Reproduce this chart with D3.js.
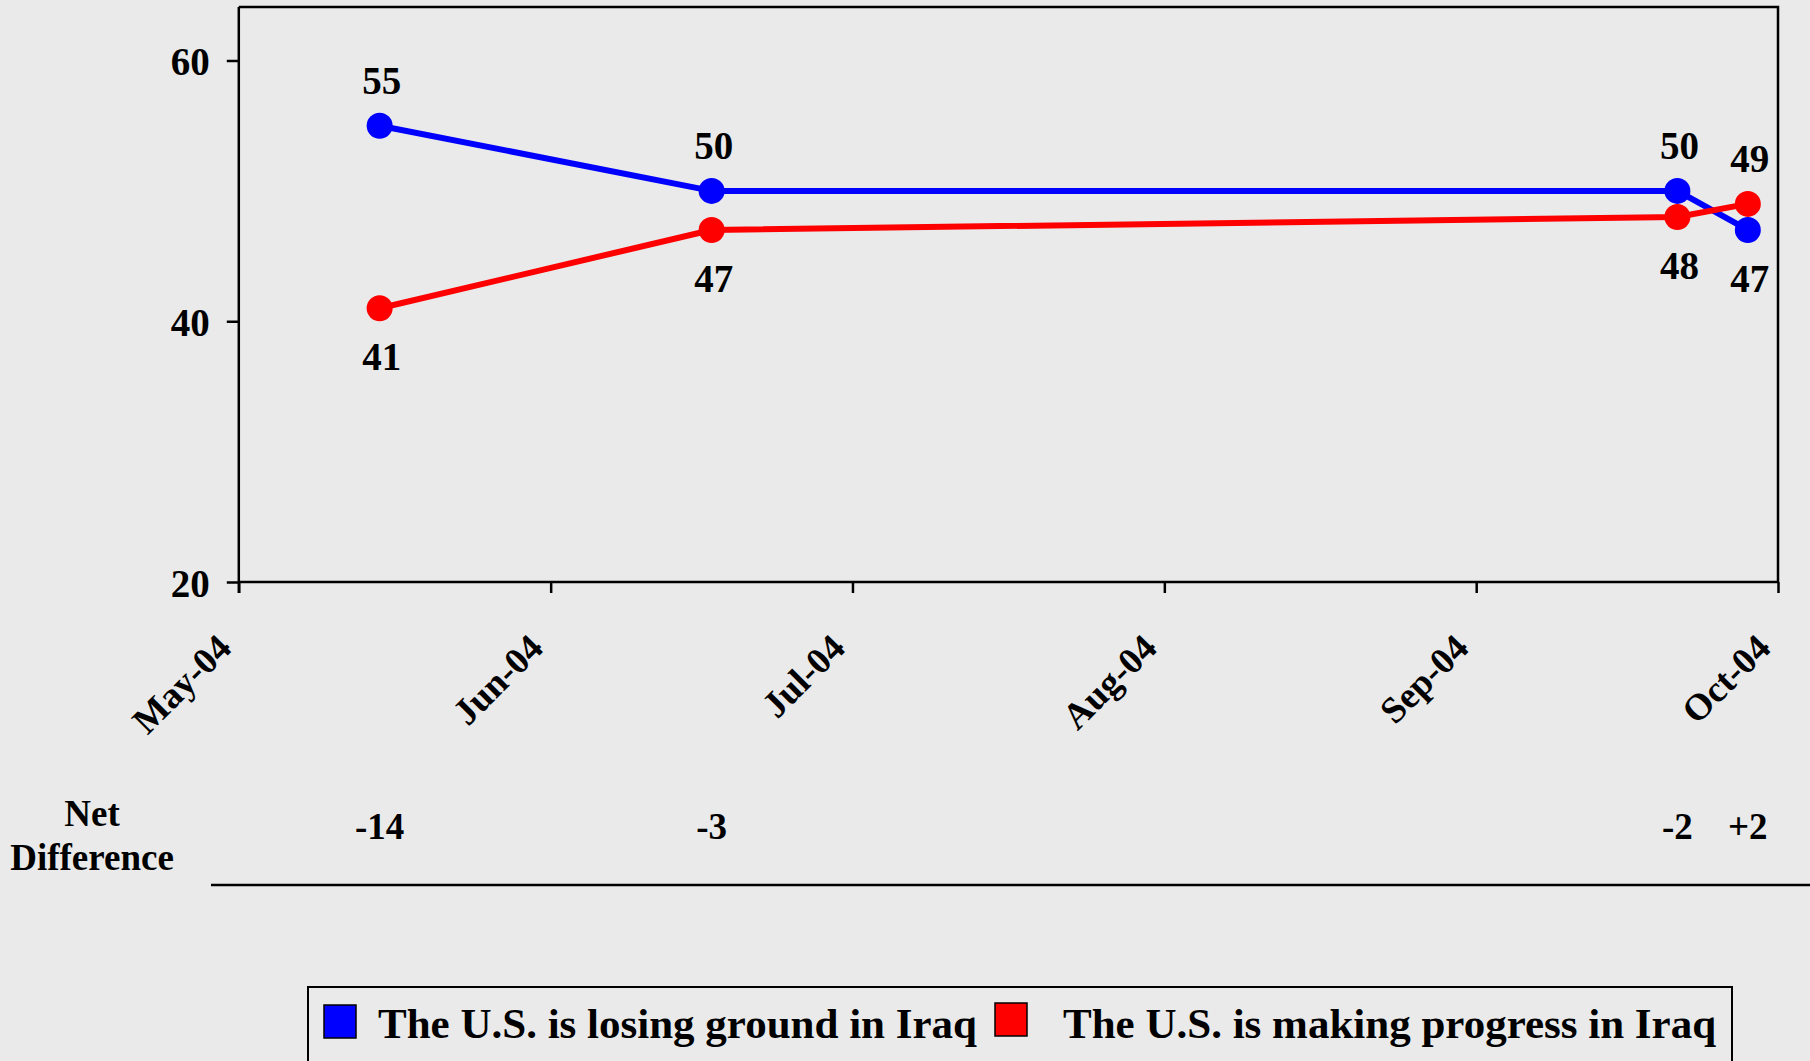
<!DOCTYPE html>
<html>
<head>
<meta charset="utf-8">
<script src="https://cdn.jsdelivr.net/npm/d3@7"></script>
<style>
  html, body { margin: 0; padding: 0; background: #EAEAEA; }
  svg { display: block; }
  text { font-family: "Liberation Serif", "Times New Roman", serif; font-weight: bold; fill: #000; }
</style>
</head>
<body>
<svg id="chart" width="1810" height="1061"></svg>
<script>
// ---- data ----
const monthTicks = ["2004-05-01", "2004-06-01", "2004-07-01", "2004-08-01", "2004-09-01", "2004-10-01"];
const surveyDates = ["2004-05-15", "2004-06-17", "2004-09-21", "2004-09-28"];
const losingGround = [55, 50, 50, 47];
const makingProgress = [41, 47, 48, 49];
const netDifference = ["-14", "-3", "-2", "+2"];
const losingLabelPos = ["above", "above", "above", "below"];
const progressLabelPos = ["below", "below", "below", "above"];
const seriesNames = ["The U.S. is losing ground in Iraq", "The U.S. is making progress in Iraq"];
const seriesColors = ["#0000FF", "#FF0000"];
const yTicks = [20, 40, 60];
const netLabel = ["Net", "Difference"];

// ---- setup ----
const parse = d3.timeParse("%Y-%m-%d");
const svg = d3.select("#chart");
svg.append("rect").attr("width", 1810).attr("height", 1061).attr("fill", "#EAEAEA");

const plot = { left: 238.8, right: 1778, top: 7, bottom: 582 };
const x = d3.scaleTime()
  .domain([parse(monthTicks[0]), parse(monthTicks[monthTicks.length - 1])])
  .range([plot.left, plot.right]);
const y = d3.scaleLinear()
  .domain([20, 60])
  .range([plot.bottom, 60.5]);

// plot frame (top and right)
svg.append("path")
  .attr("d", `M${plot.left},${plot.top}H${plot.right}V${plot.bottom}`)
  .attr("fill", "none").attr("stroke", "#000").attr("stroke-width", 2.5);

// y axis
const yAxis = svg.append("g")
  .attr("transform", `translate(${plot.left},0)`)
  .call(d3.axisLeft(y).tickValues(yTicks).tickSize(12).tickPadding(17).tickFormat(d3.format("d")));
yAxis.select(".domain").remove();
yAxis.append("line").attr("x1", 0).attr("x2", 0).attr("y1", plot.top).attr("y2", plot.bottom + 11)
  .attr("stroke", "#000").attr("stroke-width", 2.5);
yAxis.selectAll(".tick line").attr("stroke", "#000").attr("stroke-width", 2.5);
yAxis.selectAll(".tick text").attr("font-size", 39).attr("dy", "0.36em")
  .style("font-family", '"Liberation Serif", serif').style("font-weight", "bold");

// x axis
const xAxis = svg.append("g")
  .attr("transform", `translate(0,${plot.bottom})`)
  .call(d3.axisBottom(x).tickValues(monthTicks.map(parse)).tickSize(11).tickFormat(d3.timeFormat("%b-%y")));
xAxis.select(".domain").attr("d", `M${plot.left},0H${plot.right}`).attr("stroke", "#000").attr("stroke-width", 2.5);
xAxis.selectAll(".tick line").attr("stroke", "#000").attr("stroke-width", 2.5);
xAxis.selectAll(".tick text")
  .attr("font-size", 37)
  .attr("y", 0).attr("dy", 0)
  .attr("text-anchor", "end")
  .attr("transform", "translate(-6,68) rotate(-45)")
  .style("font-family", '"Liberation Serif", serif').style("font-weight", "bold");

// ---- series ----
const series = [
  { name: seriesNames[0], values: losingGround, pos: losingLabelPos, color: seriesColors[0] },
  { name: seriesNames[1], values: makingProgress, pos: progressLabelPos, color: seriesColors[1] }
];
const line = d3.line().x(d => x(d.date)).y(d => y(d.value));

series.forEach(s => {
  const pts = s.values.map((v, i) => ({ date: parse(surveyDates[i]), value: v, pos: s.pos[i] }));
  const g = svg.append("g");
  g.append("path").datum(pts).attr("d", line)
    .attr("fill", "none").attr("stroke", s.color).attr("stroke-width", 6).attr("stroke-linejoin", "round");
  g.selectAll("circle").data(pts).join("circle")
    .attr("cx", d => x(d.date)).attr("cy", d => y(d.value)).attr("r", 13).attr("fill", s.color);
  s.pts = pts;
});

// data labels (drawn after all marks)
series.forEach(s => {
  svg.append("g").selectAll("text").data(s.pts).join("text")
    .attr("x", d => x(d.date) + 2)
    .attr("y", d => y(d.value) + (d.pos === "above" ? -32 : 62))
    .attr("text-anchor", "middle")
    .attr("font-size", 39)
    .text(d => d.value);
});

// ---- net difference row ----
const netG = svg.append("g");
netG.selectAll("text.lab").data(netLabel).join("text").attr("class", "lab")
  .attr("x", 92).attr("y", (d, i) => 826 + i * 44)
  .attr("text-anchor", "middle").attr("font-size", 37).text(d => d);
netG.selectAll("text.val").data(netDifference).join("text").attr("class", "val")
  .attr("x", (d, i) => x(parse(surveyDates[i])))
  .attr("y", 839)
  .attr("text-anchor", "middle").attr("font-size", 37).text(d => d);
netG.append("line").attr("x1", 211).attr("x2", 1810).attr("y1", 885).attr("y2", 885)
  .attr("stroke", "#000").attr("stroke-width", 2.5);

// ---- legend ----
const leg = svg.append("g");
leg.append("rect").attr("x", 308).attr("y", 987).attr("width", 1424).attr("height", 120)
  .attr("fill", "none").attr("stroke", "#000").attr("stroke-width", 2);
const legItems = [
  { name: seriesNames[0], color: seriesColors[0], sx: 324, sy: 1005, tx: 378 },
  { name: seriesNames[1], color: seriesColors[1], sx: 995, sy: 1003, tx: 1063 }
];
legItems.forEach(it => {
  leg.append("rect").attr("x", it.sx).attr("y", it.sy).attr("width", 32).attr("height", 33)
    .attr("fill", it.color).attr("stroke", "#000").attr("stroke-width", 1.5);
  leg.append("text").attr("x", it.tx).attr("y", 1038).attr("font-size", 43).text(it.name);
});
</script>
</body>
</html>
